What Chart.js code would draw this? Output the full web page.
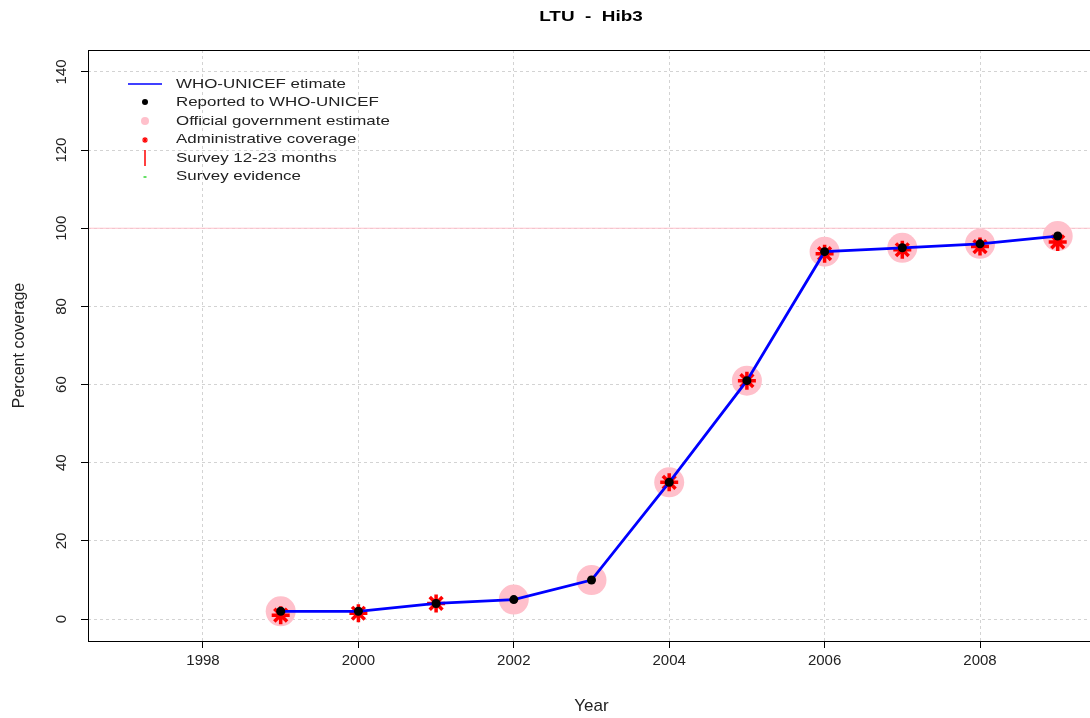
<!DOCTYPE html>
<html>
<head>
<meta charset="utf-8">
<script src="https://cdn.jsdelivr.net/npm/chart.js@4.4.1/dist/chart.umd.min.js"></script>
<style>
  html, body { margin: 0; padding: 0; background: #fff; overflow: hidden; }
  #wrap { position: relative; width: 1090px; height: 718px; overflow: hidden; }
  #wrap canvas { position: absolute; left: 0; top: 0; }
</style>
</head>
<body>
<div id="wrap"><canvas id="chart" width="1100" height="718"></canvas></div>
<script>
const years = [1999, 2000, 2001, 2002, 2003, 2004, 2005, 2006, 2007, 2008, 2009];
const whoEstimate = [2, 2, 4, 5, 10, 35, 61, 94, 95, 96, 98];
const reported = [2, 2, 4, 5, 10, 35, 61, 94, 95, 96, 98];
const officialEstimate = [2, null, null, 5, 10, 35, 61, 94, 95, 96, 98];
const adminCoverage = [1, 1.5, 4, null, null, 35, 61, 93.5, 94.5, 95.3, 96.5];
const survey1223 = [];
const surveyEvidence = [];
const xTicks = [1998, 2000, 2002, 2004, 2006, 2008];
const yTicks = [0, 20, 40, 60, 80, 100, 120, 140];
const targetLevel = 100;
const chartTitle = 'LTU  -  Hib3';

const FONT = '"Liberation Sans", Arial, sans-serif';

const toPoints = vals => years
    .map((yr, i) => ({ x: yr, y: vals[i] }))
    .filter(p => p.y !== null && p.y !== undefined);

// extra drawing: title, box, 100% line, legend inside plot
const decorations = {
    id: 'decorations',
    beforeDatasetsDraw(chart) {
        const { ctx, chartArea, scales } = chart;
        const y = scales.y.getPixelForValue(targetLevel);
        ctx.save();
        ctx.strokeStyle = '#ffc0cb';
        ctx.lineWidth = 1;
        ctx.beginPath();
        ctx.moveTo(chartArea.left, y);
        ctx.lineTo(chartArea.right, y);
        ctx.stroke();
        ctx.restore();
    },
    afterDraw(chart) {
        const { ctx, chartArea } = chart;
        ctx.save();
        // box
        ctx.strokeStyle = '#000';
        ctx.lineWidth = 1;
        ctx.strokeRect(chartArea.left + 0.5, chartArea.top + 0.5,
            chartArea.right - chartArea.left, chartArea.bottom - chartArea.top);

        // title
        ctx.fillStyle = '#000';
        ctx.font = 'bold 14px ' + FONT;
        ctx.textAlign = 'center';
        ctx.textBaseline = 'alphabetic';
        ctx.translate(591, 21);
        ctx.scale(1.35, 1);
        ctx.fillText(chartTitle, 0, 0);
        ctx.restore();

        // legend
        const rowY = [84, 102, 121, 139, 158, 176];
        const symX = 145;
        chart.data.datasets.forEach((ds, i) => {
            const y = rowY[i];
            ctx.save();
            const kind = ds.legendKind;
            if (kind === 'line') {
                ctx.strokeStyle = ds.borderColor;
                ctx.lineWidth = 1.5;
                ctx.beginPath();
                ctx.moveTo(128, y);
                ctx.lineTo(162, y);
                ctx.stroke();
            } else if (kind === 'dot') {
                ctx.fillStyle = ds.pointBackgroundColor;
                ctx.beginPath();
                ctx.arc(symX, y, ds.legendRadius, 0, Math.PI * 2);
                ctx.fill();
            } else if (kind === 'star') {
                ctx.strokeStyle = ds.pointBorderColor;
                ctx.lineWidth = 1.2;
                const r = 3;
                ctx.beginPath();
                for (let a = 0; a < 4; a++) {
                    const ang = a * Math.PI / 4;
                    ctx.moveTo(symX - r * Math.cos(ang), y + 1 - r * Math.sin(ang));
                    ctx.lineTo(symX + r * Math.cos(ang), y + 1 + r * Math.sin(ang));
                }
                ctx.stroke();
            } else if (kind === 'vbar') {
                ctx.strokeStyle = ds.borderColor;
                ctx.lineWidth = 1.5;
                ctx.beginPath();
                ctx.moveTo(symX, y - 8);
                ctx.lineTo(symX, y + 8);
                ctx.stroke();
            } else if (kind === 'hbar') {
                ctx.strokeStyle = ds.borderColor;
                ctx.lineWidth = 1.2;
                ctx.beginPath();
                ctx.moveTo(symX - 1.5, y + 1);
                ctx.lineTo(symX + 1.5, y + 1);
                ctx.stroke();
            }
            ctx.fillStyle = '#222';
            ctx.font = '13px ' + FONT;
            ctx.textAlign = 'left';
            ctx.textBaseline = 'middle';
            ctx.translate(176, y);
            ctx.scale(1.3, 1);
            ctx.fillText(ds.label, 0, 0);
            ctx.restore();
        });
    }
};

const ctx = document.getElementById('chart').getContext('2d');
new Chart(ctx, {
    type: 'line',
    data: {
        datasets: [
            {
                label: 'WHO-UNICEF etimate',
                legendKind: 'line',
                data: toPoints(whoEstimate),
                borderColor: '#0000ff',
                borderWidth: 2.8,
                pointRadius: 0,
                tension: 0,
                order: 2,
            },
            {
                label: 'Reported to WHO-UNICEF',
                legendKind: 'dot',
                legendRadius: 3,
                data: toPoints(reported),
                showLine: false,
                pointRadius: 4.5,
                pointBackgroundColor: '#000',
                pointBorderWidth: 0,
                order: 1,
            },
            {
                label: 'Official government estimate',
                legendKind: 'dot',
                legendRadius: 4,
                data: toPoints(officialEstimate),
                showLine: false,
                pointRadius: 15,
                pointBackgroundColor: '#ffc0cb',
                pointBorderWidth: 0,
                order: 4,
            },
            {
                label: 'Administrative coverage',
                legendKind: 'star',
                data: toPoints(adminCoverage),
                showLine: false,
                pointStyle: 'star',
                pointRadius: 9,
                pointBorderColor: '#ff0000',
                pointBorderWidth: 3.5,
                order: 3,
            },
            {
                label: 'Survey 12-23 months',
                legendKind: 'vbar',
                data: toPoints(survey1223),
                borderColor: '#ff0000',
                showLine: false,
                order: 5,
            },
            {
                label: 'Survey evidence',
                legendKind: 'hbar',
                data: toPoints(surveyEvidence),
                borderColor: '#00cc00',
                showLine: false,
                order: 6,
            },
        ],
    },
    options: {
        responsive: false,
        animation: false,
        events: [],
        layout: { autoPadding: false, padding: { top: 50, right: 5, left: 0, bottom: 0 } },
        plugins: {
            legend: { display: false },
            tooltip: { enabled: false },
            title: { display: false },
        },
        scales: {
            x: {
                type: 'linear',
                min: 1996.52,
                max: 2009.48,
                afterBuildTicks: s => { s.ticks = xTicks.map(v => ({ value: v })); },
                afterFit: s => { s.height = 77; },
                grid: { color: '#d3d3d3', lineWidth: 1, tickColor: '#000', tickLength: 7, tickBorderDash: [] },
                border: { display: false, dash: [3, 3] },
                ticks: { color: '#222', font: { family: FONT, size: 15 }, padding: 4, maxRotation: 0, autoSkip: false, callback: v => String(v) },
                title: { display: true, text: 'Year', color: '#222', font: { family: FONT, size: 17 }, padding: { top: 0, bottom: 1 } },
            },
            y: {
                type: 'linear',
                min: -5.6,
                max: 145.6,
                afterBuildTicks: s => { s.ticks = yTicks.map(v => ({ value: v })); },
                afterFit: s => { s.width = 88; },
                grid: { color: '#d3d3d3', lineWidth: 1, tickColor: '#000', tickLength: 7, tickBorderDash: [] },
                border: { display: false, dash: [3, 3] },
                ticks: { color: '#222', font: { family: FONT, size: 15 }, padding: 7, minRotation: 90, maxRotation: 90, crossAlign: 'center', autoSkip: false, callback: v => String(v) },
                title: { display: true, text: 'Percent coverage', color: '#222', font: { family: FONT, size: 16 }, padding: { top: 10, bottom: 0 } },
            },
        },
    },
    plugins: [decorations],
});
</script>
</body>
</html>
